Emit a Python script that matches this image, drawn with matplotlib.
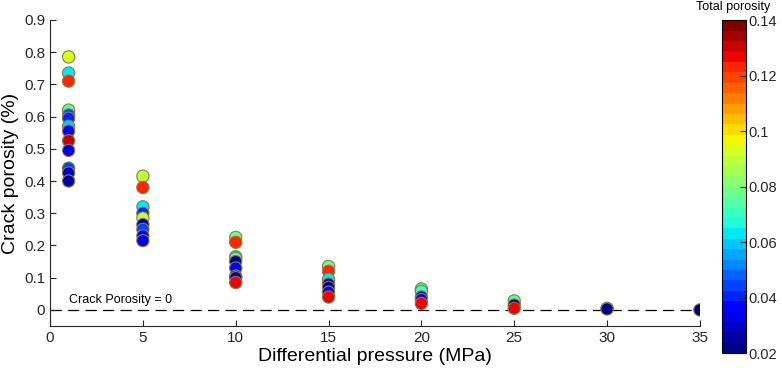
import numpy as np
import matplotlib
matplotlib.use("Agg")
import matplotlib.pyplot as plt
from matplotlib.colors import ListedColormap

plt.rcParams['font.family'] = ['Liberation Sans', 'DejaVu Sans']

# differential pressure (MPa), crack porosity (%), total porosity (fraction)
p1 = [1, 1, 1, 1, 1, 1, 1, 1, 1, 1, 1, 1, 1]
c1 = [0.785, 0.735, 0.71, 0.62, 0.605, 0.595, 0.57, 0.555, 0.525, 0.495, 0.44, 0.425, 0.40]
t1 = [0.095, 0.062, 0.125, 0.075, 0.045, 0.040, 0.060, 0.035, 0.132, 0.033, 0.045, 0.028, 0.027]

p5 = [5, 5, 5, 5, 5, 5, 5, 5, 5]
c5 = [0.415, 0.38, 0.32, 0.30, 0.285, 0.265, 0.25, 0.23, 0.215]
t5 = [0.088, 0.125, 0.062, 0.040, 0.088, 0.024, 0.045, 0.035, 0.034]

p10 = [10, 10, 10, 10, 10, 10, 10, 10, 10]
c10 = [0.225, 0.21, 0.165, 0.16, 0.15, 0.13, 0.105, 0.10, 0.085]
t10 = [0.080, 0.125, 0.062, 0.075, 0.022, 0.035, 0.033, 0.024, 0.128]

p15 = [15, 15, 15, 15, 15, 15, 15]
c15 = [0.135, 0.12, 0.095, 0.08, 0.07, 0.055, 0.04]
t15 = [0.080, 0.125, 0.062, 0.022, 0.024, 0.035, 0.128]

p20 = [20, 20, 20, 20, 20]
c20 = [0.065, 0.058, 0.04, 0.032, 0.02]
t20 = [0.075, 0.070, 0.022, 0.035, 0.128]

p25 = [25, 25, 25]
c25 = [0.028, 0.015, 0.005]
t25 = [0.075, 0.022, 0.128]

p30 = [30, 30]
c30 = [0.005, 0.003]
t30 = [0.095, 0.022]

p35 = [35]
c35 = [0.0]
t35 = [0.022]

pressure = p1 + p5 + p10 + p15 + p20 + p25 + p30 + p35
crack = c1 + c5 + c10 + c15 + c20 + c25 + c30 + c35
total = t1 + t5 + t10 + t15 + t20 + t25 + t30 + t35

cmap = ListedColormap(plt.get_cmap('jet')(np.linspace(0, 1, 32)))

fig = plt.figure(figsize=(7.82, 3.68), dpi=100)
ax = fig.add_axes([0.064, 0.114, 0.831, 0.832])

ax.plot([0, 35], [0, 0], color='black', linestyle=(0, (9, 5)), linewidth=0.9, zorder=1)
ax.text(1, 0.012, 'Crack Porosity = 0', fontsize=9, va='bottom', ha='left')

sc = ax.scatter(pressure, crack, c=total, cmap=cmap, vmin=0.02, vmax=0.14,
                s=78, edgecolors='#8a7d45', linewidths=0.8, zorder=3)

ax.set_xlim(0, 35)
ax.set_ylim(-0.05, 0.9)
ax.set_xticks([0, 5, 10, 15, 20, 25, 30, 35])
ax.set_yticks(np.arange(0, 0.91, 0.1))
ax.set_yticklabels(['0', '0.1', '0.2', '0.3', '0.4', '0.5', '0.6', '0.7', '0.8', '0.9'])
ax.tick_params(direction='in', labelsize=11, length=4, colors='#262626')
ax.spines['top'].set_visible(False)
ax.spines['right'].set_visible(False)
ax.spines['left'].set_color('#262626')
ax.spines['bottom'].set_color('#262626')
ax.set_xlabel('Differential pressure (MPa)', fontsize=14, labelpad=2)
ax.set_ylabel('Crack porosity (%)', fontsize=14, labelpad=4)

cax = fig.add_axes([0.923, 0.04, 0.031, 0.905])
cb = fig.colorbar(sc, cax=cax)
cb.set_ticks([0.02, 0.04, 0.06, 0.08, 0.1, 0.12, 0.14])
cb.set_ticklabels(['0.02', '0.04', '0.06', '0.08', '0.1', '0.12', '0.14'])
cb.ax.tick_params(direction='in', labelsize=10.5, length=4, pad=1.5, colors='#262626')
cb.outline.set_linewidth(0.8)
fig.text(0.938, 0.965, 'Total porosity', fontsize=9, ha='center', va='bottom')

fig.savefig('out.png', dpi=100)
